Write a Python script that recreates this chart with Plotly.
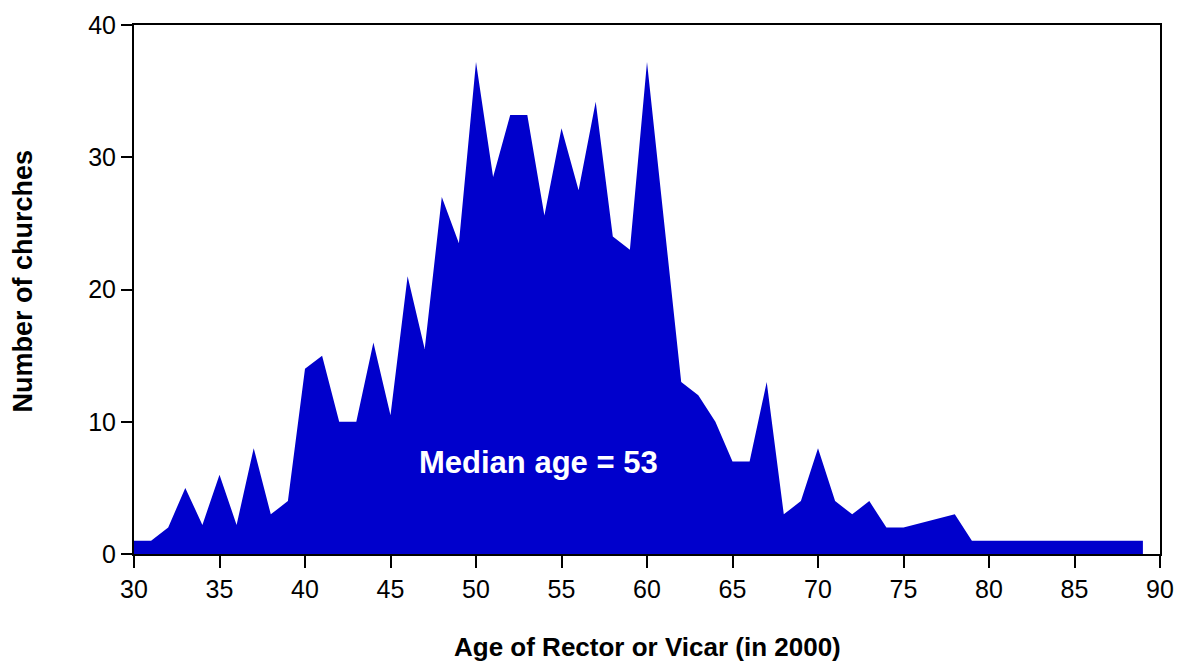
import plotly.graph_objects as go

# Age of incumbent (years) and number of churches at that age
ages = [30, 31, 32, 33, 34, 35, 36, 37, 38, 39,
        40, 41, 42, 43, 44, 45, 46, 47, 48, 49,
        50, 51, 52, 53, 54, 55, 56, 57, 58, 59,
        60, 62, 63, 64, 65, 66, 67, 68, 69,
        70, 71, 72, 73, 74, 75, 78, 79,
        80, 81, 82, 83, 84, 85, 86, 87, 88, 89]
churches = [1, 1, 2, 5, 2.2, 6, 2.2, 8, 3, 4,
            14, 15, 10, 10, 16, 10.5, 21, 15.5, 27, 23.5,
            37.2, 28.5, 33.2, 33.2, 25.6, 32.2, 27.5, 34.2, 24, 23,
            37.2, 13, 12, 10, 7, 7, 13, 3, 4,
            8, 4, 3, 4, 2, 2, 3, 1,
            1, 1, 1, 1, 1, 1, 1, 1, 1, 1]

x_ticks = [30, 35, 40, 45, 50, 55, 60, 65, 70, 75, 80, 85, 90]
y_ticks = [0, 10, 20, 30, 40]

median_age = 53

FILL = "#0000CC"
FONT = "Liberation Sans, Arial, sans-serif"

fig = go.Figure()
fig.add_trace(go.Scatter(
    x=ages, y=churches,
    mode="lines",
    line=dict(width=0, color=FILL),
    fill="tozeroy",
    fillcolor=FILL,
    hoverinfo="x+y",
    showlegend=False,
))

axis_common = dict(
    showline=True, linecolor="black", linewidth=2, mirror=True,
    ticks="outside", tickcolor="black", tickwidth=2,
    showgrid=False, zeroline=False, automargin=False,
    tickfont=dict(family=FONT, size=25, color="black"),
)

fig.update_xaxes(range=[30, 90], tickvals=x_ticks, ticklen=12, **axis_common)
fig.update_yaxes(range=[0, 40], tickvals=y_ticks, ticklen=11, **axis_common)

fig.add_annotation(
    x=median_age, y=6.9, xref="x", yref="y",
    text=f"<b>Median age = {median_age}</b>",
    showarrow=False, xshift=11,
    font=dict(family=FONT, size=31, color="white"),
    xanchor="center", yanchor="middle",
)

# Axis titles
fig.add_annotation(
    x=0.5, y=0, xref="paper", yref="paper",
    text="<b>Age of Rector or Vicar (in 2000)</b>",
    showarrow=False, yshift=-93, borderpad=0,
    font=dict(family=FONT, size=26, color="black"),
    xanchor="center", yanchor="middle",
)
fig.add_annotation(
    x=0, y=0.515, xref="paper", yref="paper",
    text="<b>Number of churches</b>",
    showarrow=False, xshift=-111, textangle=-90,
    font=dict(family=FONT, size=27, color="black"),
    xanchor="center", yanchor="middle",
)

fig.update_layout(
    width=1180, height=663,
    margin=dict(l=134, r=20, t=25, b=109),
    paper_bgcolor="white", plot_bgcolor="white",
    font=dict(family=FONT),
)

fig.write_html("out.html")
